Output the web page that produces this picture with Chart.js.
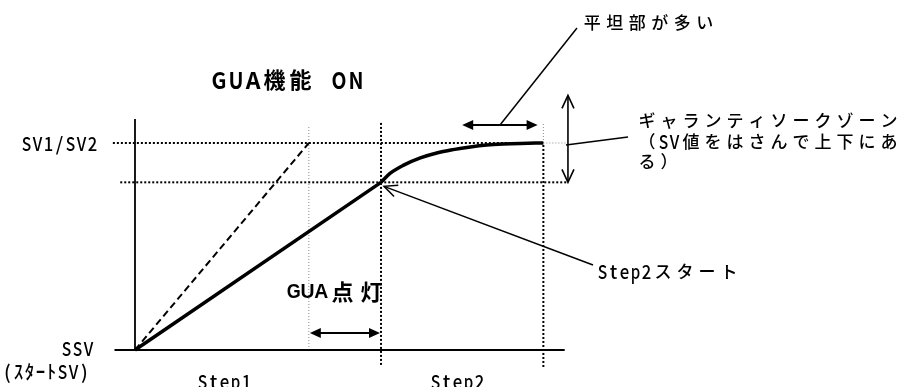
<!DOCTYPE html>
<html><head><meta charset="utf-8">
<script src="https://cdn.jsdelivr.net/npm/chart.js@4/dist/chart.umd.min.js"></script>
<style>html,body{margin:0;padding:0;background:#fff;overflow:hidden}#wrap{width:907px;height:387px}</style>
</head><body><div id="wrap"><canvas id="c" width="907" height="387"></canvas></div>
<script>
// ---- data (time units / value units; SSV = 0, SV = 100) ----
const rampTime   = [0, 30.0];
const rampValue  = [0, 81];
const soakTime   = [30.0, 31.1, 32.7, 34.8, 36.8, 38.8, 40.9, 42.9, 44.9, 47.0, 49.8];
const soakValue  = [81, 85.3, 89.2, 92.8, 95.2, 96.8, 98.1, 99.0, 99.5, 99.8, 100];
const idealTime  = [0, 21.2];
const idealValue = [0, 100];
const levelValues = [0, 81, 100, 123];          // SSV, band low, SV1/SV2, band high
const eventTimes  = [21.2, 30.0, 49.8];         // ideal arrival, Step2 start, end
const flatSpan    = [39.9, 49.1];               // flat part arrow
const levelLabels = ['SSV', '(ｽﾀｰﾄSV)', 'SV1/SV2'];
const stepLabels  = ['Step1', 'Step2'];
const titleText   = 'GUA機能 ON';
const guaText     = 'GUA点灯';
const noteFlat    = '平坦部が多い';
const noteZone    = ['ギャランティソークゾーン', '（SV値をはさんで上下にあ', 'る）'];
const noteStep2   = 'Step2スタート';

// ---- layout ----
const W = 907, H = 387, OX = 135, OY = 350, PPT = 8.2, PPV = 2.07;
const pts = (xs, ys) => xs.map((x, i) => ({x, y: ys[i]}));
const seg = (x1, y1, x2, y2, st) => Object.assign({
  data: [{x: x1, y: y1}, {x: x2, y: y2}], pointRadius: 0, fill: false, order: 2,
  borderColor: '#000', borderWidth: 2, tension: 0
}, st);
const blackDot = {borderDash: [2, 2], borderWidth: 2, borderColor: '#000'};
const grayDot  = {borderDash: [1, 2], borderWidth: 1, borderColor: '#8a8a8a'};
const [ssv, bandLo, sv, bandHi] = levelValues;
const [tIdeal, tStep2, tEnd] = eventTimes;
const tZone = 52.8;

const datasets = [
  // axes
  seg(0, ssv, 0, 111.6, {borderWidth: 1.8}),
  seg(-2.5, ssv, 52.4, ssv, {borderWidth: 2}),
  // guide lines
  seg(-2.7, sv, tEnd, sv, blackDot),
  seg(tEnd, sv, 52.7, sv, grayDot),
  seg(-1.8, bandLo, 52.7, bandLo, blackDot),
  seg(tIdeal, ssv, tIdeal, 108.7, grayDot),
  seg(tStep2, -7.2, tStep2, 110, blackDot),
  seg(tEnd, sv, tEnd, 109.7, grayDot),
  seg(tEnd, -8.2, tEnd, sv, blackDot),
  // curves
  {data: pts(idealTime, idealValue), borderColor: '#000', borderWidth: 2, borderDash: [7, 4], pointRadius: 0, order: 1, tension: 0},
  {data: pts(rampTime, rampValue), borderColor: '#000', borderWidth: 3.5, pointRadius: 0, order: 0, tension: 0},
  {data: pts(soakTime, soakValue), borderColor: '#000', borderWidth: 3.5, pointRadius: 0, order: 0, cubicInterpolationMode: 'monotone'}
];

function isHalf(ch) {
  const c = ch.charCodeAt(0);
  return c < 0x2000 || (c >= 0xFF61 && c <= 0xFF9F);
}
function drawSpaced(ctx, text, x, y, o) {
  let total = 0;
  for (const ch of text) total += isHalf(ch) ? o.half : o.full;
  let cx = o.align === 'right' ? x - total : o.align === 'center' ? x - total / 2 : x;
  ctx.textBaseline = 'middle'; ctx.textAlign = 'center'; ctx.fillStyle = '#000';
  for (const ch of text) {
    const h = isHalf(ch);
    const w = h ? o.half : o.full;
    if (ch !== ' ' && ch !== '　') {
      ctx.font = (o.weight || 'normal') + ' ' + (h ? o.lsize : o.size) + 'px ' + (h ? o.lfont : o.cfont);
      const mw = ctx.measureText(ch).width;
      const maxW = h ? o.lmax : 999;
      ctx.save(); ctx.translate(cx + w / 2, y);
      if (mw > maxW) ctx.scale(maxW / mw, 1);
      ctx.fillText(ch, 0, 0);
      ctx.restore();
    }
    cx += w;
  }
}
const NORMAL = {half: 11, full: 22, size: 17, lsize: 19, lmax: 9.5, weight: '500', cfont: '"Noto Sans CJK JP"', lfont: '"Noto Sans CJK JP"'};

function line(ctx, x1, y1, x2, y2, w) {
  ctx.beginPath(); ctx.lineWidth = w; ctx.strokeStyle = '#000';
  ctx.moveTo(x1, y1); ctx.lineTo(x2, y2); ctx.stroke();
}
function headFilled(ctx, tx, ty, fx, fy, len, hw) {
  const a = Math.atan2(ty - fy, tx - fx), c = Math.cos(a), s = Math.sin(a);
  ctx.beginPath(); ctx.fillStyle = '#000';
  ctx.moveTo(tx, ty);
  ctx.lineTo(tx - len * c - hw * s, ty - len * s + hw * c);
  ctx.lineTo(tx - len * c + hw * s, ty - len * s - hw * c);
  ctx.closePath(); ctx.fill();
}
function headOpen(ctx, tx, ty, fx, fy, len, hw, w) {
  const a = Math.atan2(ty - fy, tx - fx), c = Math.cos(a), s = Math.sin(a);
  ctx.beginPath(); ctx.lineWidth = w; ctx.strokeStyle = '#000';
  ctx.moveTo(tx - len * c - hw * s, ty - len * s + hw * c);
  ctx.lineTo(tx, ty);
  ctx.lineTo(tx - len * c + hw * s, ty - len * s - hw * c);
  ctx.stroke();
}
function dblFilled(ctx, x1, y1, x2, y2) {
  const a = Math.atan2(y2 - y1, x2 - x1), c = Math.cos(a), s = Math.sin(a);
  line(ctx, x1 + 8 * c, y1 + 8 * s, x2 - 8 * c, y2 - 8 * s, 2);
  headFilled(ctx, x1, y1, x2, y2, 11, 5);
  headFilled(ctx, x2, y2, x1, y1, 11, 5);
}

const annot = {
  id: 'annot',
  afterDatasetsDraw(chart) {
    const ctx = chart.ctx, X = v => chart.scales.x.getPixelForValue(v), Y = v => chart.scales.y.getPixelForValue(v);
    ctx.save();
    // GUA lamp arrow
    dblFilled(ctx, X(tIdeal) + 1, Y(8.2), X(tStep2) - 1, Y(8.2));
    // flat part arrow
    dblFilled(ctx, X(flatSpan[0]), Y(108.7), X(flatSpan[1]), Y(108.7));
    // guarantee zone arrow (open heads)
    line(ctx, X(tZone), Y(bandHi) + 1, X(tZone), Y(bandLo) - 1, 1.6);
    headOpen(ctx, X(tZone), Y(bandHi), X(tZone), Y(bandLo), 13, 6, 1.6);
    headOpen(ctx, X(tZone), Y(bandLo), X(tZone), Y(bandHi), 13, 6, 1.6);
    // leaders
    line(ctx, 500, Y(108.7), 577, 28, 1.5);
    line(ctx, X(tZone) - 2, Y(sv) + 2, 628, 137, 1.5);
    const sx = X(tStep2) + 3, sy = Y(bandLo) + 4;
    line(ctx, sx, sy, 593, 265, 1.5);
    headOpen(ctx, sx, sy, 593, 265, 13, 6, 1.5);

    // texts
    drawSpaced(ctx, titleText, 210.5, 80, {half: 17, full: 26, size: 22, lsize: 23, lmax: 15, weight: 'bold', cfont: '"Noto Sans CJK JP"', lfont: '"Noto Sans CJK JP"'});
    drawSpaced(ctx, guaText, 287, 292, {half: 13.7, full: 29, size: 22, lsize: 21, lmax: 14, weight: 'bold', cfont: '"Noto Sans CJK JP"', lfont: '"Liberation Sans"'});
    drawSpaced(ctx, levelLabels[2], 98, Y(sv) + 1, Object.assign({align: 'right'}, NORMAL));
    drawSpaced(ctx, levelLabels[0], 94, Y(ssv) - 1, Object.assign({align: 'right'}, NORMAL));
    drawSpaced(ctx, levelLabels[1], 2, 372, NORMAL);
    drawSpaced(ctx, stepLabels[0], 197, 382, NORMAL);
    drawSpaced(ctx, stepLabels[1], 430, 382, NORMAL);
    drawSpaced(ctx, noteFlat, 581, 23, Object.assign({}, NORMAL, {full: 22.5}));
    noteZone.forEach((t, i) => drawSpaced(ctx, t, 636, 121 + i * 20.5, NORMAL));
    drawSpaced(ctx, noteStep2, 597, 272, NORMAL);
    ctx.restore();
  }
};

new Chart(document.getElementById('c'), {
  type: 'line',
  data: {datasets},
  options: {
    responsive: false, animation: false, devicePixelRatio: 1,
    layout: {padding: 0},
    plugins: {legend: {display: false}, tooltip: {enabled: false}, title: {display: false}},
    elements: {line: {borderCapStyle: 'butt'}},
    scales: {
      x: {type: 'linear', display: false, min: -OX / PPT, max: (W - OX) / PPT},
      y: {type: 'linear', display: false, min: -(H - OY) / PPV, max: OY / PPV}
    }
  },
  plugins: [annot]
});
</script>
</body></html>
